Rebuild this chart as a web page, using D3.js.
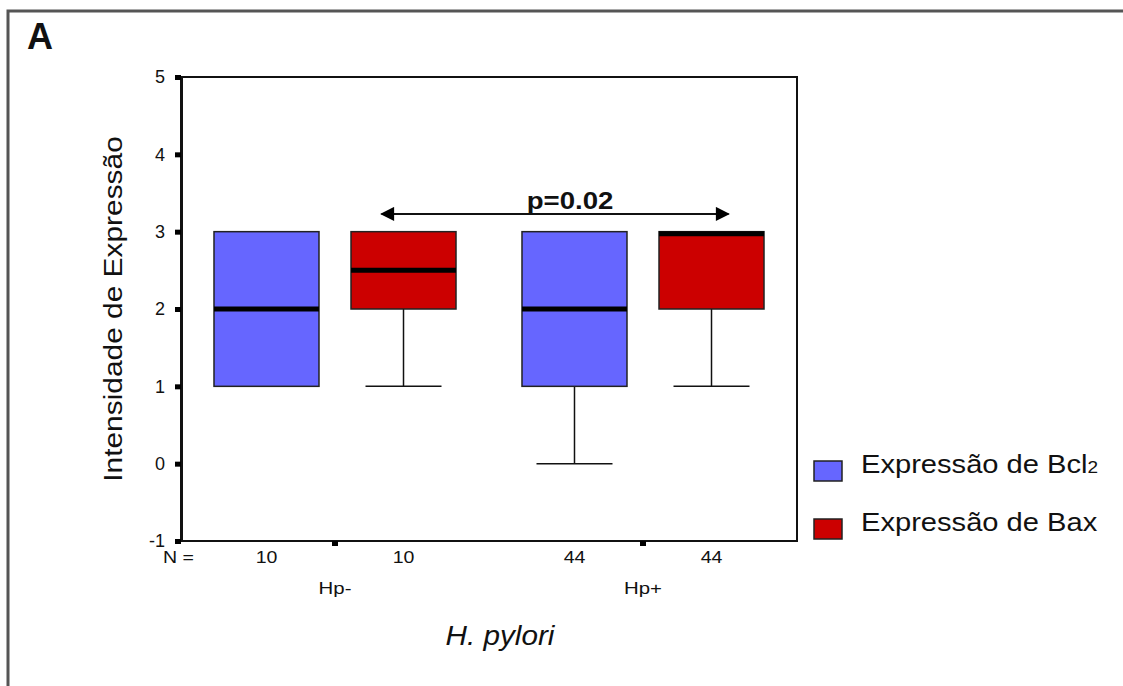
<!DOCTYPE html>
<html>
<head>
<meta charset="utf-8">
<script src="https://cdn.jsdelivr.net/npm/d3@7"></script>
<style>
  body { margin: 0; background: #fff; }
  text { font-family: "Liberation Sans", Arial, sans-serif; fill: #111; }
</style>
</head>
<body>
<script>
// data
var groups = ["Hp-", "Hp+"];
var series = ["Expressão de Bcl2", "Expressão de Bax"];
var seriesColors = ["#6666ff", "#cc0000"];
var counts = [[10, 10], [44, 44]];
// [lowerWhisker, q1, median, q3, upperWhisker] per group, per series
var boxStats = [
  [[1, 1, 2, 3, 3], [1, 2, 2.5, 3, 3]],
  [[0, 1, 2, 3, 3], [1, 2, 3, 3, 3]]
];
var yTicks = [-1, 0, 1, 2, 3, 4, 5];
var pLabel = "p=0.02";

// layout
var margin = {top: 77, left: 181},
    width = 616,
    height = 464;

var svg = d3.select("body").append("svg")
    .attr("width", 1123)
    .attr("height", 686);

// outer frame
svg.append("rect")
   .attr("x", 8).attr("y", 11)
   .attr("width", 1140).attr("height", 700)
   .attr("fill", "none").attr("stroke", "#555").attr("stroke-width", 3);

svg.append("text")
   .attr("x", 27).attr("y", 49)
   .style("font-size", "36px").style("font-weight", "bold")
   .text("A");

var g = svg.append("g")
   .attr("transform", "translate(" + margin.left + "," + margin.top + ")");

// scales
var y = d3.scaleLinear().domain([-1, 5]).range([height, 0]);
var x0 = d3.scaleBand().domain(groups).range([0, width]);
var x1 = d3.scalePoint().domain(series).range([0, x0.bandwidth()]).padding(0.624);
var boxW = 105, capW = 76;

// plot frame
g.append("rect")
 .attr("width", width).attr("height", height)
 .attr("fill", "none").attr("stroke", "#111").attr("stroke-width", 2);

// y axis (square ticks)
var yAxis = g.append("g")
  .call(d3.axisLeft(y).tickValues(yTicks).tickSize(0).tickPadding(16)
        .tickFormat(function(d) { return String(d); }));
yAxis.select(".domain").attr("stroke", "#111").attr("stroke-width", 3);
yAxis.selectAll(".tick text")
  .style("font-size", "18px").style("font-family", "Liberation Sans, Arial, sans-serif")
  .attr("fill", "#222");
yAxis.selectAll(".tick").append("rect")
  .attr("x", -6).attr("y", -2.5).attr("width", 6).attr("height", 5).attr("fill", "#000");

// bottom square ticks at corner and group centres
g.append("rect").attr("x", -6).attr("y", height - 2).attr("width", 6).attr("height", 5).attr("fill", "#000");
groups.forEach(function(gr) {
  g.append("rect")
   .attr("x", x0(gr) + x0.bandwidth() / 2 - 3).attr("y", height)
   .attr("width", 6).attr("height", 5).attr("fill", "#000");
});

// boxes
groups.forEach(function(gr, gi) {
  series.forEach(function(s, si) {
    var st = boxStats[gi][si];
    var cx = x0(gr) + x1(s);
    var bg = g.append("g");
    // whiskers
    if (st[0] < st[1]) {
      bg.append("line").attr("x1", cx).attr("x2", cx).attr("y1", y(st[1])).attr("y2", y(st[0]))
        .attr("stroke", "#111").attr("stroke-width", 1.5);
      bg.append("line").attr("x1", cx - capW / 2).attr("x2", cx + capW / 2)
        .attr("y1", y(st[0])).attr("y2", y(st[0])).attr("stroke", "#111").attr("stroke-width", 1.5);
    }
    if (st[4] > st[3]) {
      bg.append("line").attr("x1", cx).attr("x2", cx).attr("y1", y(st[3])).attr("y2", y(st[4]))
        .attr("stroke", "#111").attr("stroke-width", 1.5);
      bg.append("line").attr("x1", cx - capW / 2).attr("x2", cx + capW / 2)
        .attr("y1", y(st[4])).attr("y2", y(st[4])).attr("stroke", "#111").attr("stroke-width", 1.5);
    }
    bg.append("rect")
      .attr("x", cx - boxW / 2).attr("y", y(st[3]))
      .attr("width", boxW).attr("height", y(st[1]) - y(st[3]))
      .attr("fill", seriesColors[si]).attr("stroke", "#222").attr("stroke-width", 1.5);
    var my = y(st[2]);
    if (st[2] === st[3]) my += 2;
    bg.append("line").attr("x1", cx - boxW / 2).attr("x2", cx + boxW / 2)
      .attr("y1", my).attr("y2", my).attr("stroke", "#000").attr("stroke-width", 5);
    // N label
    g.append("text")
     .attr("transform", "translate(" + cx + "," + (height + 22) + ") scale(1.15,1)")
     .attr("text-anchor", "middle").style("font-size", "17px")
     .text(counts[gi][si]);
  });
  g.append("text")
   .attr("transform", "translate(" + (x0(gr) + x0.bandwidth() / 2) + "," + (height + 53) + ") scale(1.2,1)")
   .attr("text-anchor", "middle").style("font-size", "17px")
   .text(gr);
});

g.append("text")
 .attr("transform", "translate(-18," + (height + 22) + ") scale(1.15,1)")
 .style("font-size", "17px").text("N =");

// significance arrow
var defs = svg.append("defs");
defs.append("marker").attr("id", "ah").attr("viewBox", "0 0 10 10")
  .attr("refX", 9).attr("refY", 5).attr("markerWidth", 16).attr("markerHeight", 14)
  .attr("markerUnits", "userSpaceOnUse").attr("orient", "auto-start-reverse")
  .append("path").attr("d", "M0,0L10,5L0,10Z").attr("fill", "#000");

var ax1 = x0("Hp-") + x1(series[1]) - 22, ax2 = x0("Hp+") + x1(series[1]) + 17;
g.append("line")
 .attr("x1", ax1).attr("x2", ax2).attr("y1", y(3.23)).attr("y2", y(3.23))
 .attr("stroke", "#111").attr("stroke-width", 2)
 .attr("marker-start", "url(#ah)").attr("marker-end", "url(#ah)");
g.append("text")
 .attr("transform", "translate(" + ((ax1 + ax2) / 2 + 15) + "," + (y(3.23) - 5) + ") scale(1.15,1)")
 .attr("text-anchor", "middle").style("font-size", "24px").style("font-weight", "bold")
 .text(pLabel);

// axis titles
svg.append("text")
   .attr("transform", "translate(122," + (margin.top + y(2)) + ") rotate(-90) scale(1.15,1)")
   .attr("text-anchor", "middle").style("font-size", "26px")
   .text("Intensidade de Expressão");

svg.append("text")
   .attr("transform", "translate(500,645) scale(1.1,1)")
   .attr("text-anchor", "middle").style("font-size", "27px").style("font-style", "italic")
   .text("H. pylori");

// legend
var leg = svg.append("g").attr("transform", "translate(814,461)");
series.forEach(function(s, i) {
  var r = leg.append("g").attr("transform", "translate(0," + (i * 58) + ")");
  r.append("rect").attr("width", 28).attr("height", 20)
   .attr("fill", seriesColors[i]).attr("stroke", "#222").attr("stroke-width", 1.5);
  var t = r.append("text").attr("transform", "translate(47,12) scale(1.12,1)")
   .style("font-size", "26px");
  if (i === 0) {
    t.text("Expressão de Bcl");
    t.append("tspan").style("font-size", "17px").text("2");
  } else {
    t.text(s);
  }
});
</script>
</body>
</html>
